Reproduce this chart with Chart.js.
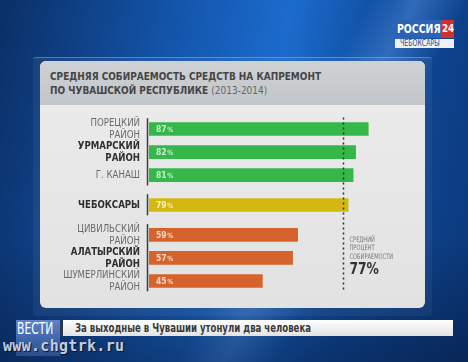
<!DOCTYPE html>
<html lang="ru">
<head>
<meta charset="utf-8">
<title>Средняя собираемость средств на капремонт</title>
<script src="https://cdn.jsdelivr.net/npm/chart.js@4.4.1/dist/chart.umd.min.js"></script>
<style>
    html, body { margin: 0; padding: 0; }
    body {
        width: 468px; height: 362px; overflow: hidden; position: relative;
        font-family: 'DejaVu Sans', sans-serif;
        background:
            linear-gradient(to bottom, rgba(0,0,0,0) 65%, rgba(4,18,48,0.45) 100%),
            linear-gradient(118deg, rgba(0,0,0,0) 56%, rgba(110,170,250,0.35) 63%, rgba(0,0,0,0) 71%),
            linear-gradient(100deg, #0b2f66 0%, #1456ad 35%, #1b6bcc 55%, #0f4b9c 74%, #0b3778 100%);
    }
    .sq { display: inline-block; white-space: nowrap; transform-origin: left center; }
    .frame {
        position: absolute; left: 33px; top: 57px; width: 399px; height: 258px;
        border-top: 1px solid rgba(190,215,255,0.35);
        background: rgba(255,255,255,0.05); border-radius: 3px;
    }
    .panel {
        position: absolute; left: 40px; top: 61px; width: 385px; height: 247px;
        border-radius: 6px; overflow: hidden;
        background: linear-gradient(to bottom, #ececec, #e2e2e2);
    }
    .panel-head {
        height: 44px; background: linear-gradient(to bottom, #cfd2d5, #c2c6c9);
        box-sizing: border-box; padding: 8px 0 0 10px;
        color: #454545; font-weight: bold; font-size: 10.5px; line-height: 14px;
    }
    .panel-head .sq { display: block; width: max-content; }
    .panel-head span span { font-weight: normal; color: #666; }
    .chart-box { position: absolute; left: 0; top: 44px; width: 385px; height: 200px; }
    .logo-main {
        position: absolute; left: 394px; top: 20px; width: 47px; height: 18px;
        background: #2d62b6; color: #fff; font-weight: bold; font-size: 12px;
        line-height: 18px; overflow: hidden; box-sizing: border-box; padding-left: 3px;
    }
    .logo-main .sq { transform: scaleX(0.78); }
    .logo-num {
        position: absolute; left: 441px; top: 20px; width: 13px; height: 18px;
        background: #d2322b; color: #fff; font-weight: bold; font-size: 11px;
        line-height: 18px; overflow: hidden; box-sizing: border-box; padding-left: 1px;
    }
    .logo-num .sq { transform: scaleX(0.8); }
    .logo-city {
        position: absolute; left: 395px; top: 39px; width: 59px; height: 9px;
        background: #eef0f4; color: #2b4c8c; font-size: 8px; line-height: 9px;
        overflow: hidden; box-sizing: border-box; padding-left: 5px;
    }
    .logo-city .sq { transform: scaleX(0.78); }
    .vesti {
        position: absolute; left: 16px; top: 320px; width: 44px; height: 36px;
        background: linear-gradient(to bottom, #5d84c8, #3c63a6 60%, rgba(60,99,166,0.6));
        color: #fff; font-size: 15px; line-height: 18px; box-sizing: border-box; padding-left: 1px;
    }
    .vesti .sq { transform: scaleX(0.72); }
    .ticker-sep { position: absolute; left: 60px; top: 321px; width: 3px; height: 15px; background: #2a3550; }
    .ticker {
        position: absolute; left: 63px; top: 320px; width: 390px; height: 16px;
        background: linear-gradient(to bottom, #ffffff, #e2e2e2);
        box-sizing: border-box; padding-left: 12px;
        color: #3a3a3a; font-weight: bold; font-size: 11.5px; line-height: 16px;
    }
    .site {
        position: absolute; left: 3px; top: 337px;
        font-family: 'DejaVu Sans Mono', monospace; font-weight: bold; font-size: 15px;
        letter-spacing: 0.3px; color: #c3cde0; text-shadow: 1px 1px 1px #0a1530;
    }
</style>
</head>
<body>
    <div class="frame"></div>
    <div class="panel">
        <div class="panel-head">
            <span class="sq" id="titleLine1">СРЕДНЯЯ СОБИРАЕМОСТЬ СРЕДСТВ НА КАПРЕМОНТ</span>
            <span class="sq" id="titleLine2">ПО ЧУВАШСКОЙ РЕСПУБЛИКЕ <span>(2013-2014)</span></span>
        </div>
        <div class="chart-box"><canvas id="rateChart"></canvas></div>
    </div>
    <div class="logo-main"><span class="sq">РОССИЯ</span></div>
    <div class="logo-num"><span class="sq">24</span></div>
    <div class="logo-city"><span class="sq">ЧЕБОКСАРЫ</span></div>
    <div class="vesti"><span class="sq">ВЕСТИ</span></div>
    <div class="ticker-sep"></div>
    <div class="ticker"><span class="sq" id="tickerText">За выходные в Чувашии утонули два человека</span></div>
    <div class="site">www.chgtrk.ru</div>

<script>
// ================== DATA ==================
const districts = [
    ['ПОРЕЦКИЙ', 'РАЙОН'],
    ['УРМАРСКИЙ', 'РАЙОН'],
    ['Г. КАНАШ'],
    ['ЧЕБОКСАРЫ'],
    ['ЦИВИЛЬСКИЙ', 'РАЙОН'],
    ['АЛАТЫРСКИЙ', 'РАЙОН'],
    ['ШУМЕРЛИНСКИЙ', 'РАЙОН']
];
const collectionRates = [87, 82, 81, 79, 59, 57, 45];
const districtGroups = [0, 0, 0, 1, 2, 2, 2];          // above / capital / below average
const boldDistricts = [false, true, false, true, false, true, false];
const averageRate = 77;
const averageNote = ['СРЕДНИЙ', 'ПРОЦЕНТ', 'СОБИРАЕМОСТИ'];

// ================== STYLE ==================
const groupColors = ['#36b74a', '#d3b90f', '#d6632b'];
const labelFont = "'DejaVu Sans', sans-serif";
const groupGap = 0.3;

// row slots: one per district, extra gap between groups
const rowSlots = collectionRates.map((_, i) => i + districtGroups[i] * groupGap);

// --- helpers ---
function groupRange(g) {
    const idx = districtGroups.map((d, i) => d === g ? i : -1).filter(i => i >= 0);
    return [rowSlots[idx[0]], rowSlots[idx[idx.length - 1]]];
}

// text squeezed horizontally (the broadcast font is a condensed one)
function squeezedText(ctx, text, x, y, squeeze) {
    ctx.save();
    ctx.translate(x, y);
    ctx.scale(squeeze, 1);
    ctx.fillText(text, 0, 0);
    ctx.restore();
}

// squeeze html text so its first element is a given width
function fitWidth(ids, width) {
    const els = ids.map(id => document.getElementById(id));
    const k = width / els[0].getBoundingClientRect().width;
    els.forEach(el => { el.style.transform = `scaleX(${k})`; });
}

// ================== PLUGINS ==================
const districtLabelPlugin = {
    id: 'districtLabels',
    afterDraw(chart) {
        const { ctx, chartArea, scales: { y } } = chart;
        const right = chartArea.left - 9;
        ctx.save();
        ctx.textAlign = 'right';
        ctx.textBaseline = 'middle';
        districts.forEach((lines, i) => {
            const bold = boldDistricts[i];
            ctx.font = `${bold ? 'bold ' : ''}10px ${labelFont}`;
            ctx.fillStyle = bold ? '#2e2e2e' : '#6b6b6b';
            const cy = y.getPixelForValue(rowSlots[i]);
            const lh = 12;
            lines.forEach((line, k) => {
                const ly = cy + (k - (lines.length - 1) / 2) * lh;
                squeezedText(ctx, line, right, ly, 0.86);
            });
        });
        ctx.restore();
    }
};

const groupAxisPlugin = {
    id: 'groupAxis',
    afterDatasetsDraw(chart) {
        const { ctx, chartArea, scales: { y } } = chart;
        ctx.save();
        ctx.strokeStyle = '#3c3c3c';
        ctx.lineWidth = 1.5;
        [0, 1, 2].forEach(g => {
            const [a, b] = groupRange(g);
            ctx.beginPath();
            ctx.moveTo(chartArea.left - 1.5, y.getPixelForValue(a - 0.47));
            ctx.lineTo(chartArea.left - 1.5, y.getPixelForValue(b + 0.45));
            ctx.stroke();
        });
        ctx.restore();
    }
};

const averageLinePlugin = {
    id: 'averageLine',
    afterDatasetsDraw(chart) {
        const { ctx, scales: { x, y } } = chart;
        const px = Math.round(x.getPixelForValue(averageRate)) + 0.5;
        const top = y.getPixelForValue(rowSlots[0] - 0.5);
        const bottom = y.getPixelForValue(rowSlots[rowSlots.length - 1] + 0.5);
        ctx.save();
        ctx.strokeStyle = '#2e2e2e';
        ctx.lineWidth = 1.5;
        ctx.setLineDash([2, 3]);
        ctx.beginPath();
        ctx.moveTo(px, top);
        ctx.lineTo(px, bottom);
        ctx.stroke();
        ctx.setLineDash([]);

        // note next to the line
        const tx = px + 6;
        let ty = y.getPixelForValue(rowSlots[4]) + 5;
        ctx.fillStyle = '#7a7a7a';
        ctx.font = `7.5px ${labelFont}`;
        ctx.textBaseline = 'middle';
        averageNote.forEach(line => { squeezedText(ctx, line, tx, ty, 0.68); ty += 8.5; });
        ctx.fillStyle = '#333';
        ctx.font = `bold 15px ${labelFont}`;
        squeezedText(ctx, averageRate + '%', tx, y.getPixelForValue(rowSlots[5]) + 12, 0.82);
        ctx.restore();
    }
};

const barValuePlugin = {
    id: 'barValues',
    afterDatasetsDraw(chart) {
        const { ctx } = chart;
        const bars = chart.getDatasetMeta(0).data;
        ctx.save();
        ctx.fillStyle = 'rgba(255,255,255,0.75)';
        ctx.textBaseline = 'middle';
        bars.forEach((bar, i) => {
            const num = String(collectionRates[i]);
            const x0 = bar.base + 7;
            ctx.font = `bold 9px ${labelFont}`;
            squeezedText(ctx, num, x0, bar.y + 0.5, 0.85);
            const w = ctx.measureText(num).width * 0.85;
            ctx.font = `bold 7px ${labelFont}`;
            squeezedText(ctx, '%', x0 + w + 0.5, bar.y + 1, 0.85);
        });
        ctx.restore();
    }
};

// ================== CHART ==================
document.addEventListener('DOMContentLoaded', () => {
    fitWidth(['titleLine1', 'titleLine2'], 271);
    fitWidth(['tickerText'], 236);

    const ctx = document.getElementById('rateChart').getContext('2d');
    new Chart(ctx, {
        type: 'bar',
        data: {
            labels: districts.map(d => d.join(' ')),
            datasets: [{
                data: collectionRates.map((v, i) => ({ x: v, y: rowSlots[i] })),
                backgroundColor: districtGroups.map(g => groupColors[g]),
                borderWidth: 0,
                barThickness: 13
            }]
        },
        options: {
            indexAxis: 'y',
            responsive: true,
            maintainAspectRatio: false,
            animation: false,
            layout: { padding: { top: 1, bottom: 1, right: 24, left: 0 } },
            plugins: { legend: { display: false }, tooltip: { enabled: false } },
            scales: {
                x: { type: 'linear', min: 0, max: 100, display: false },
                y: {
                    type: 'linear', reverse: true, min: -1, max: 7.6, offset: false,
                    grid: { display: false, drawTicks: false },
                    border: { display: false },
                    ticks: { display: false },
                    afterFit: scale => { scale.width = 109; }
                }
            }
        },
        plugins: [groupAxisPlugin, averageLinePlugin, barValuePlugin, districtLabelPlugin]
    });
});
</script>
</body>
</html>
